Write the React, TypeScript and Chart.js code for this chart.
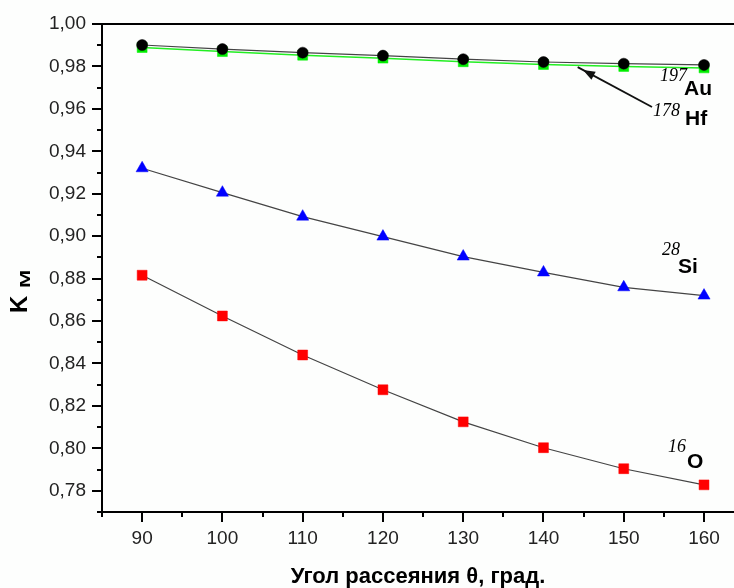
import React, { useEffect, useRef } from "react";
import { Chart, registerables } from "chart.js";

Chart.register(...registerables);

// Scattering angle, degrees
const angles = [90, 100, 110, 120, 130, 140, 150, 160];
// K_M values per target nucleus
const au197 = [0.9901, 0.9882, 0.9865, 0.9851, 0.9834, 0.9821, 0.9813, 0.9807];
const hf178 = [0.9889, 0.987, 0.9853, 0.9839, 0.9822, 0.9809, 0.98, 0.9793];
const si28 = [0.932, 0.9205, 0.9092, 0.8998, 0.8904, 0.8829, 0.8759, 0.872];
const o16 = [0.8816, 0.8624, 0.844, 0.8276, 0.8125, 0.8003, 0.7904, 0.7828];

// axis ticks
const xTickValues = [85, 90, 95, 100, 105, 110, 115, 120, 125, 130, 135, 140, 145, 150, 155, 160];
const yTickValues = [0.77, 0.78, 0.79, 0.8, 0.81, 0.82, 0.83, 0.84, 0.85, 0.86, 0.87, 0.88, 0.89, 0.9, 0.91, 0.92, 0.93, 0.94, 0.95, 0.96, 0.97, 0.98, 0.99, 1.0];

const xTitle = "Угол рассеяния θ, град.";
const yTitleMain = "K";
const yTitleSub = "M";

const SANS = '"Liberation Sans", Arial, sans-serif';
const SERIF = '"Liberation Serif", "Times New Roman", serif';

export default function App() {
  const ref = useRef<HTMLCanvasElement>(null);

  useEffect(() => {
    document.body.style.margin = "0";
    const canvas = ref.current;
    if (!canvas) return;
    const pts = (ys: number[]) => angles.map((x, i) => ({ x, y: ys[i] }));

    const decor = {
      id: "decor",
      afterDraw(chart: any) {
        const ctx = chart.ctx as CanvasRenderingContext2D;
        const { left, top, bottom } = chart.chartArea;
        const xs = chart.scales.x;
        const ys = chart.scales.y;
        const edge = chart.width + 2;
        ctx.save();
        ctx.strokeStyle = "#000";
        ctx.lineWidth = 2;
        ctx.beginPath();
        ctx.moveTo(edge, top);
        ctx.lineTo(left, top);
        ctx.lineTo(left, bottom);
        ctx.lineTo(edge, bottom);
        ctx.stroke();
        // y ticks
        ctx.beginPath();
        yTickValues.forEach((val) => {
          const n = Math.round(val * 100);
          const py = Math.round(ys.getPixelForValue(val));
          const len = n % 2 === 0 ? 10 : 5;
          ctx.moveTo(left - len, py);
          ctx.lineTo(left, py);
        });
        // x ticks
        xTickValues.forEach((v) => {
          const px = Math.round(xs.getPixelForValue(v));
          const len = v % 10 === 0 ? 10 : 5;
          ctx.moveTo(px, bottom);
          ctx.lineTo(px, bottom + len);
        });
        ctx.stroke();

        ctx.fillStyle = "#000";
        // x title
        ctx.font = `bold 22px ${SANS}`;
        ctx.textAlign = "center";
        ctx.textBaseline = "middle";
        ctx.fillText(xTitle, 418, 577);

        // y title K_M
        ctx.save();
        ctx.translate(27, 313);
        ctx.rotate(-Math.PI / 2);
        ctx.textAlign = "left";
        ctx.textBaseline = "alphabetic";
        ctx.font = `bold 24px ${SANS}`;
        ctx.fillText(yTitleMain, 0, 0);
        ctx.save();
        ctx.translate(25, 3);
        ctx.scale(1.45, 1);
        ctx.font = `bold 15px ${SANS}`;
        ctx.fillText(yTitleSub, 0, 0);
        ctx.restore();
        ctx.restore();

        // annotations
        ctx.textAlign = "left";
        ctx.textBaseline = "alphabetic";
        const sup = (t: string, x: number, y: number) => {
          ctx.font = `italic 18px ${SERIF}`;
          ctx.fillText(t, x, y);
        };
        const el = (t: string, x: number, y: number) => {
          ctx.font = `bold 21px ${SANS}`;
          ctx.fillText(t, x, y);
        };
        sup("197", 660, 81);
        el("Au", 684, 95);
        sup("178", 653, 116);
        el("Hf", 685, 125);
        sup("28", 662, 255);
        el("Si", 678, 273);
        sup("16", 668, 452);
        el("O", 687, 468);

        // arrow
        const x1 = 652, y1 = 107, x2 = 583, y2 = 70;
        const ang = Math.atan2(y2 - y1, x2 - x1);
        ctx.strokeStyle = "#111";
        ctx.lineWidth = 1.8;
        ctx.beginPath();
        ctx.moveTo(x1, y1);
        ctx.lineTo(x2 + 6 * Math.cos(ang), y2 + 6 * Math.sin(ang));
        ctx.stroke();
        ctx.beginPath();
        ctx.moveTo(x2, y2);
        ctx.lineTo(x2 - 12 * Math.cos(ang) + 4.5 * Math.sin(ang), y2 - 12 * Math.sin(ang) - 4.5 * Math.cos(ang));
        ctx.lineTo(x2 - 12 * Math.cos(ang) - 4.5 * Math.sin(ang), y2 - 12 * Math.sin(ang) + 4.5 * Math.cos(ang));
        ctx.closePath();
        ctx.fillStyle = "#111";
        ctx.fill();
        ctx.restore();
      },
    };

    const bg = {
      id: "bg",
      beforeDraw(chart: any) {
        const ctx = chart.ctx;
        ctx.save();
        ctx.fillStyle = "#fdfefd";
        ctx.fillRect(0, 0, chart.width, chart.height);
        ctx.restore();
      },
    };

    const chart = new Chart(canvas, {
      type: "line",
      data: {
        datasets: [
          {
            label: "197Au",
            data: pts(au197),
            borderColor: "#444",
            borderWidth: 1.2,
            pointStyle: "circle",
            pointRadius: 5.5,
            pointBackgroundColor: "#000",
            pointBorderColor: "#000",
            pointBorderWidth: 0.5,
          },
          {
            label: "178Hf",
            data: pts(hf178),
            borderColor: "#22ee22",
            borderWidth: 1.5,
            pointStyle: "rect",
            pointRadius: 7,
            pointBackgroundColor: "#00ee00",
            pointBorderColor: "#00ee00",
            pointBorderWidth: 0.5,
          },
          {
            label: "28Si",
            data: pts(si28),
            borderColor: "#444",
            borderWidth: 1.2,
            pointStyle: "triangle",
            pointRadius: 7,
            pointBackgroundColor: "#0000ff",
            pointBorderColor: "#0000ff",
            pointBorderWidth: 0.5,
          },
          {
            label: "16O",
            data: pts(o16),
            borderColor: "#444",
            borderWidth: 1.2,
            pointStyle: "rect",
            pointRadius: 7,
            pointBackgroundColor: "#ff0000",
            pointBorderColor: "#ff0000",
            pointBorderWidth: 0.5,
          },
        ],
      },
      options: {
        animation: false,
        responsive: false,
        maintainAspectRatio: false,
        layout: { padding: { top: 24, left: 0, right: 0, bottom: 0 } },
        plugins: { legend: { display: false }, tooltip: { enabled: false } },
        scales: {
          x: {
            type: "linear",
            min: 85,
            max: 162.8,
            border: { display: false },
            grid: { display: false, drawTicks: false },
            afterBuildTicks: (s: any) => {
              s.ticks = xTickValues.map((value) => ({ value }));
            },
            ticks: {
              autoSkip: false,
              maxRotation: 0,
              padding: 15,
              color: "#222",
              font: { family: SANS, size: 19 },
              callback: (v: any) => (Number(v) % 10 === 0 ? String(v) : ""),
            },
            afterFit: (s: any) => {
              s.height = 76;
              s.paddingRight = 0;
              s.paddingLeft = 0;
            },
          },
          y: {
            type: "linear",
            min: 0.77,
            max: 1.0,
            border: { display: false },
            grid: { display: false, drawTicks: false },
            afterBuildTicks: (s: any) => {
              s.ticks = yTickValues.map((value) => ({ value }));
            },
            ticks: {
              autoSkip: false,
              padding: 16,
              color: "#222",
              font: { family: SANS, size: 19 },
              callback: (v: any) => {
                const n = Math.round(Number(v) * 100);
                return n % 2 === 0 ? (n / 100).toFixed(2).replace(".", ",") : "";
              },
            },
            afterFit: (s: any) => {
              s.width = 102;
              s.paddingTop = 0;
              s.paddingBottom = 0;
            },
          },
        },
      },
      plugins: [bg, decor],
    } as any);
    return () => chart.destroy();
  }, []);

  return (
    <div style={{ position: "absolute", left: 0, top: 0, width: 734, height: 588 }}>
      <canvas ref={ref} width={734} height={588} style={{ width: 734, height: 588 }} />
    </div>
  );
}
